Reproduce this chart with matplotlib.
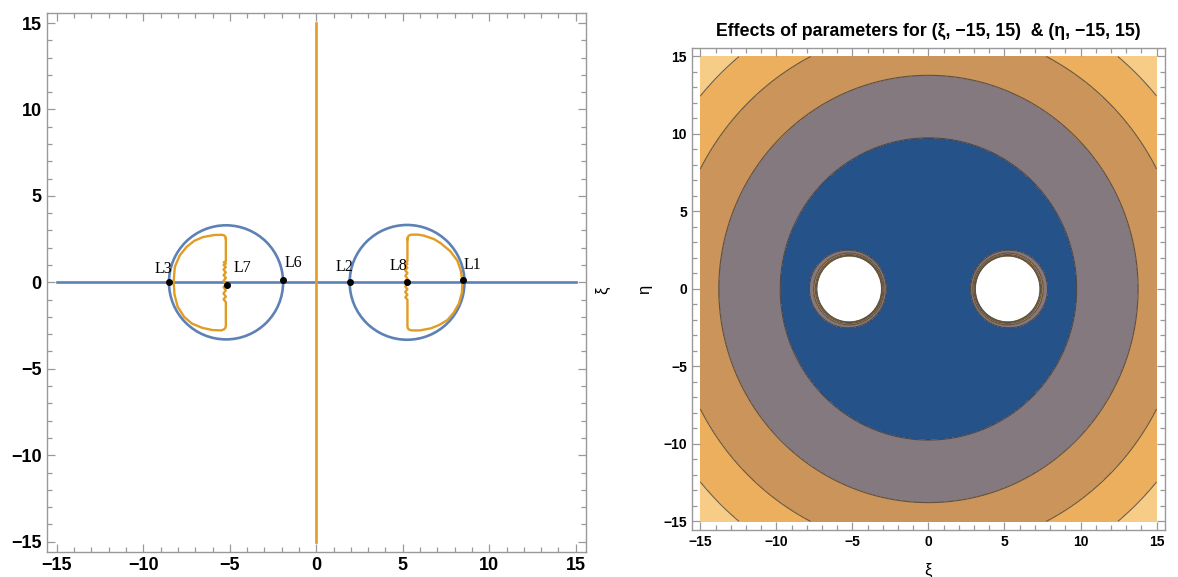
import matplotlib
matplotlib.use("Agg")
import matplotlib.pyplot as plt
import numpy as np
from matplotlib.patches import Circle
from matplotlib.ticker import MultipleLocator

plt.rcParams["font.family"] = ["Liberation Sans", "DejaVu Sans"]

BLUE = "#5E81B5"
ORANGE = "#E19C24"

# ---- left panel data ----
axis_span = [-15, 15]
circle_x = [-5.22, 5.25]
circle_r = [3.30, 3.32]

# right D-shaped curve (orange)
dR_x = [5.27, 5.29, 5.36, 5.50, 5.90, 6.23, 6.81, 7.20, 7.75, 8.16, 8.35, 8.45, 8.42, 8.25,
        7.95, 7.58, 7.10, 6.62, 6.00, 5.50, 5.36, 5.29, 5.27, 5.27, 5.15, 5.27, 5.14, 5.27,
        5.15, 5.27, 5.14, 5.27, 5.15, 5.27, 5.14, 5.27, 5.15, 5.27, 5.16, 5.27, 5.27]
dR_y = [2.50, 2.62, 2.71, 2.76, 2.76, 2.70, 2.50, 2.26, 1.80, 1.25, 0.70, 0.13, -0.60, -1.22,
        -1.75, -2.18, -2.47, -2.66, -2.78, -2.78, -2.73, -2.65, -2.52, -1.00, -0.86, -0.72,
        -0.56, -0.40, -0.25, -0.10, 0.06, 0.22, 0.38, 0.54, 0.70, 0.84, 0.96, 1.06, 1.14,
        1.22, 2.50]

# left D-shaped curve (orange)
dL_x = [-5.23, -5.25, -5.32, -5.46, -5.90, -6.55, -7.06, -7.50, -7.90, -8.18, -8.25, -8.20,
        -8.02, -7.64, -7.20, -6.60, -6.00, -5.50, -5.34, -5.26, -5.23, -5.23, -5.36, -5.23,
        -5.37, -5.23, -5.36, -5.23, -5.37, -5.23, -5.36, -5.23, -5.37, -5.23, -5.36, -5.23,
        -5.35, -5.23, -5.23]
dL_y = [2.52, 2.63, 2.71, 2.75, 2.74, 2.62, 2.40, 2.05, 1.55, 0.90, 0.03, -0.70,
        -1.40, -2.00, -2.38, -2.63, -2.76, -2.78, -2.72, -2.64, -2.52, -1.14, -0.98, -0.82,
        -0.64, -0.46, -0.28, -0.10, 0.08, 0.26, 0.42, 0.58, 0.74, 0.88, 1.00, 1.08, 1.16,
        1.22, 2.52]

pt_names = ["L1", "L2", "L3", "L6", "L7", "L8"]
pt_x = [8.47, 1.94, -8.53, -1.94, -5.17, 5.23]
pt_y = [0.12, 0.02, 0.00, 0.15, -0.15, 0.00]
pt_offset = [(7, 11), (-4, 11), (-4, 9.5), (8, 12), (11, 12), (-6, 11.5)]

# ---- right panel data ----
primary_x = [-5.2, 5.2]
hole_strength = 3.7e6
hole_power = 12
contour_levels = [0, 95, 190, 285, 380, 475]
fill_colors = ["#26528A", "#857980", "#CA945A", "#EBAF5E", "#F6CC87"]
title = "Effects of parameters for (\u03be, \u221215, 15)  & (\u03b7, \u221215, 15)"


def style_frame(ax, size, lims):
    ax.set_xlim(lims)
    ax.set_ylim(lims)
    ax.xaxis.set_major_locator(MultipleLocator(5))
    ax.yaxis.set_major_locator(MultipleLocator(5))
    ax.xaxis.set_minor_locator(MultipleLocator(1))
    ax.yaxis.set_minor_locator(MultipleLocator(1))
    ax.tick_params(which="both", direction="in", top=True, right=True, color="#999999",
                   width=0.9, labelsize=size)
    ax.tick_params(which="major", length=6)
    ax.tick_params(which="minor", length=3.5)
    for s in ax.spines.values():
        s.set_color("#999999")
        s.set_linewidth(1.0)
    for lab in ax.get_xticklabels() + ax.get_yticklabels():
        lab.set_fontweight("bold")


fig = plt.figure(figsize=(11.78, 5.77), dpi=100)

# left
ax1 = fig.add_axes([0.0395, 0.0433, 0.458, 0.9347])
ax1.plot(axis_span, [0, 0], color=BLUE, lw=1.9, zorder=2)
for cx, r in zip(circle_x, circle_r):
    ax1.add_patch(Circle((cx, 0), r, fill=False, ec=BLUE, lw=1.9, zorder=2))
ax1.plot([0, 0], axis_span, color=ORANGE, lw=1.9, zorder=3)
ax1.plot(dR_x, dR_y, color=ORANGE, lw=1.7, zorder=3, solid_joinstyle="round")
ax1.plot(dL_x, dL_y, color=ORANGE, lw=1.7, zorder=3, solid_joinstyle="round")
ax1.plot(pt_x, pt_y, "o", color="black", ms=4, zorder=5)
for name, x, y, off in zip(pt_names, pt_x, pt_y, pt_offset):
    ax1.annotate(name, (x, y), xytext=off, textcoords="offset points", ha="center",
                 va="center", fontsize=11.5, family=["Liberation Serif", "DejaVu Serif"],
                 zorder=6)
style_frame(ax1, 13, (-15.6, 15.6))

# right
ax2 = fig.add_axes([0.5874, 0.0815, 0.4015, 0.8354])
g = np.linspace(-15, 15, 1201)
X, Y = np.meshgrid(g, g)
F = X ** 2 + Y ** 2
for px in primary_x:
    r = np.maximum(np.hypot(X - px, Y), 0.5)
    F = F + hole_strength / r ** hole_power
F = np.minimum(F, 1e4)
ax2.contourf(X, Y, F, levels=contour_levels, colors=fill_colors)
ax2.contour(X, Y, F, levels=contour_levels[1:], colors="#3a3a3a", linewidths=0.8, alpha=0.75)
style_frame(ax2, 10, (-15.55, 15.55))
ax2.set_title(title, fontsize=12.8, fontweight="bold", pad=9)
ax2.set_xlabel("\u03be", fontsize=12, labelpad=10)
ax2.set_ylabel("\u03b7", fontsize=12, labelpad=8)
fig.text(0.512, 0.497, "\u03be", rotation=90, fontsize=12, ha="center", va="center")

fig.savefig("out.png", dpi=100)
